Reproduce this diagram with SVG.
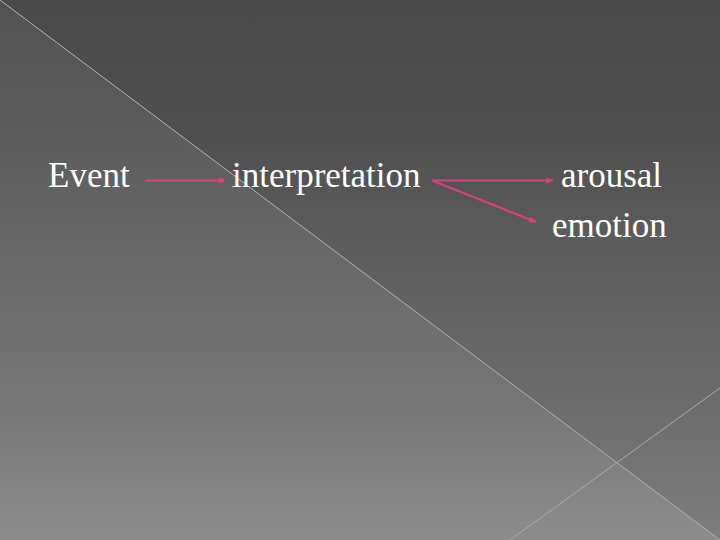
<svg xmlns="http://www.w3.org/2000/svg" width="720" height="540" viewBox="0 0 720 540">
<defs>
<linearGradient id="gLow" gradientUnits="userSpaceOnUse" x1="0" y1="0" x2="0" y2="540">
<stop offset="0" stop-color="#535353"/>
<stop offset="0.2" stop-color="#5a5a5a"/>
<stop offset="0.55" stop-color="#6c6c6c"/>
<stop offset="0.74" stop-color="#767676"/>
<stop offset="1" stop-color="#8c8c8c"/>
</linearGradient>
<linearGradient id="gUp" gradientUnits="userSpaceOnUse" x1="0" y1="0" x2="0" y2="540">
<stop offset="0" stop-color="#4a4a4a"/>
<stop offset="0.25" stop-color="#4f4f4f"/>
<stop offset="0.45" stop-color="#5d5d5d"/>
<stop offset="0.72" stop-color="#6a6a6a"/>
<stop offset="1" stop-color="#7e7e7e"/>
</linearGradient>
<marker id="dot" viewBox="0 0 6 6" refX="3" refY="3" markerWidth="6" markerHeight="6" markerUnits="userSpaceOnUse" orient="auto">
<ellipse cx="3" cy="3" rx="3" ry="2.5" fill="#dc3f80"/>
</marker>
<marker id="tri" viewBox="0 0 8 6" refX="7" refY="3" markerWidth="8" markerHeight="6" markerUnits="userSpaceOnUse" orient="auto">
<path d="M0,0 L8,3 L0,6 Z" fill="#dc3f80"/>
</marker>
</defs>
<style>
.lbl{font-family:"Liberation Serif","Times New Roman",serif;font-size:35px;fill:#ffffff}
.con{stroke:#dc3f80;stroke-width:2.2;fill:none}
.deco{stroke:#a8a8a8;stroke-width:1;fill:none}
</style>
<g id="background">
<polygon points="0,0 720,540 0,540" fill="url(#gLow)"/>
<polygon points="0,0 720,0 720,540" fill="url(#gUp)"/>
<line class="deco" x1="0" y1="0" x2="720" y2="540"/>
<line class="deco" x1="510" y1="540" x2="720" y2="388"/>
</g>
<g id="connectors">
<line class="con" x1="145" y1="180.5" x2="221" y2="180.5" marker-end="url(#dot)"/>
<line class="con" x1="432" y1="180.5" x2="553" y2="180.5" marker-end="url(#tri)"/>
<line class="con" x1="432" y1="180.5" x2="536" y2="222" marker-end="url(#tri)"/>
</g>
<g id="node-event"><text class="lbl" x="48" y="187">Event</text></g>
<g id="node-interpretation"><text class="lbl" x="232" y="187">interpretation</text></g>
<g id="node-arousal"><text class="lbl" x="561" y="187">arousal</text></g>
<g id="node-emotion"><text class="lbl" x="552" y="237">emotion</text></g>
</svg>
